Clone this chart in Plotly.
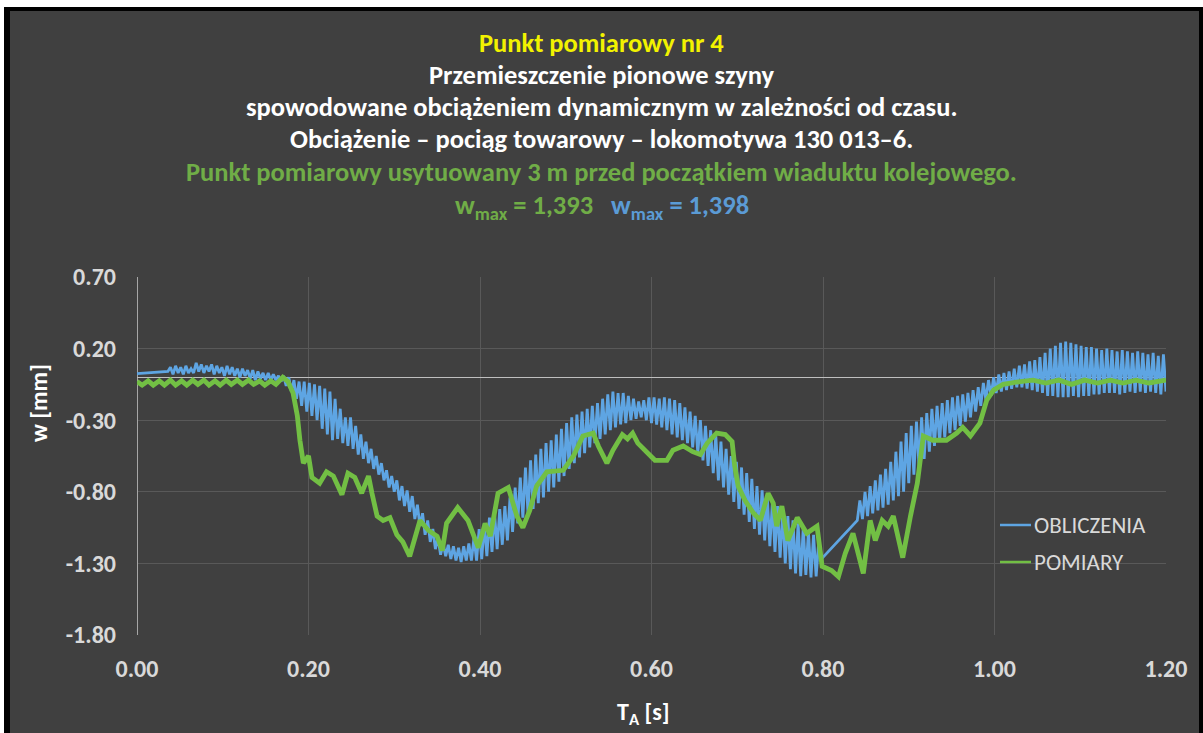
import numpy as np
import plotly.graph_objects as go

# ---------------------------------------------------------------- data
X_TICKS = [0.0, 0.2, 0.4, 0.6, 0.8, 1.0, 1.2]
Y_TICKS = [0.7, 0.2, -0.3, -0.8, -1.3, -1.8]

NAME_CALC = "OBLICZENIA"
NAME_MEAS = "POMIARY"

# OBLICZENIA: computed rail displacement w [mm], sampled every 3 ms
calc_dt = 0.003
calc_head_t = [0.0]
calc_head_w = [0.025]
calc_a_t0 = 0.036
calc_a_w = [
    0.04, 0.07, 0.02, 0.08, 0.03, 0.07, 0.02, 0.08, 0.03, 0.06,
    0.03, 0.10, 0.04, 0.09, 0.03, 0.08, 0.04, 0.09, 0.02, 0.08,
    0.03, 0.07, 0.01, 0.08, 0.02, 0.07, 0.01, 0.06, 0.00, 0.06,
    0.01, 0.05, -0.01, 0.05, -0.02, 0.04, -0.01, 0.03, -0.02, 0.03,
    -0.02, 0.02, -0.02, 0.01, -0.03, 0.01, -0.06, 0.00, -0.10, -0.02,
    -0.15, -0.03, -0.20, -0.03, -0.24, -0.04, -0.27, -0.05, -0.30, -0.06,
    -0.36, -0.08, -0.40, -0.10, -0.44, -0.15, -0.43, -0.22, -0.46, -0.28,
    -0.48, -0.28, -0.50, -0.34, -0.54, -0.40, -0.57, -0.45, -0.60, -0.50,
    -0.64, -0.55, -0.68, -0.60, -0.72, -0.65, -0.77, -0.69, -0.80, -0.72,
    -0.86, -0.76, -0.90, -0.79, -0.94, -0.83, -0.99, -0.89, -1.04, -0.95,
    -1.10, -1.00, -1.15, -1.06, -1.20, -1.12, -1.24, -1.16, -1.25, -1.17,
    -1.27, -1.18, -1.28, -1.19, -1.29, -1.18, -1.28, -1.16, -1.28, -1.12,
    -1.28, -1.06, -1.27, -1.02, -1.25, -0.98, -1.22, -0.95, -1.20, -0.92,
    -1.17, -0.90, -1.14, -0.84, -1.08, -0.77, -1.02, -0.70, -0.98, -0.63,
    -0.95, -0.58, -0.92, -0.54, -0.88, -0.50, -0.84, -0.46, -0.80, -0.44,
    -0.77, -0.40, -0.73, -0.36, -0.69, -0.32, -0.64, -0.28, -0.60, -0.26,
    -0.56, -0.24, -0.53, -0.22, -0.49, -0.20, -0.46, -0.18, -0.43, -0.15,
    -0.40, -0.12, -0.37, -0.10, -0.35, -0.11, -0.33, -0.11, -0.32, -0.13,
    -0.30, -0.15, -0.29, -0.17, -0.28, -0.16, -0.30, -0.14, -0.32, -0.14,
    -0.33, -0.15, -0.35, -0.14, -0.37, -0.15, -0.40, -0.16, -0.42, -0.18,
    -0.44, -0.21, -0.46, -0.24, -0.49, -0.27, -0.53, -0.30, -0.58, -0.34,
    -0.62, -0.37, -0.67, -0.41, -0.72, -0.45, -0.77, -0.50, -0.82, -0.55,
    -0.87, -0.59, -0.92, -0.63, -0.96, -0.67, -1.01, -0.71, -1.06, -0.76,
    -1.10, -0.79, -1.14, -0.83, -1.18, -0.87, -1.22, -0.90, -1.26, -0.94,
    -1.30, -0.97, -1.34, -1.00, -1.37, -1.02, -1.39, -1.05, -1.38, -1.08,
    -1.398, -1.10, -1.39, -1.15, -1.27,
]
calc_b_t0 = 0.84
calc_b_w = [
    -1.00, -0.86, -0.99, -0.80, -0.97, -0.76, -0.95, -0.72, -0.93, -0.68,
    -0.91, -0.64, -0.89, -0.59, -0.86, -0.52, -0.83, -0.45, -0.80, -0.39,
    -0.74, -0.34, -0.68, -0.31, -0.62, -0.28, -0.57, -0.25, -0.52, -0.22,
    -0.48, -0.20, -0.45, -0.18, -0.42, -0.16, -0.39, -0.14, -0.37, -0.13,
    -0.34, -0.12, -0.31, -0.11, -0.28, -0.09, -0.24, -0.07, -0.20, -0.04,
    -0.16, -0.02, -0.13, 0.00, -0.11, 0.02, -0.10, 0.03, -0.09, 0.04,
    -0.08, 0.06, -0.07, 0.08, -0.07, 0.09, -0.08, 0.11, -0.09, 0.12,
    -0.10, 0.14, -0.11, 0.17, -0.13, 0.20, -0.13, 0.22, -0.14, 0.24,
    -0.14, 0.25, -0.14, 0.24, -0.13, 0.23, -0.14, 0.22, -0.13, 0.21,
    -0.13, 0.21, -0.12, 0.20, -0.12, 0.19, -0.11, 0.20, -0.11, 0.19,
    -0.11, 0.18, -0.12, 0.19, -0.11, 0.18, -0.10, 0.17, -0.11, 0.18,
    -0.10, 0.17, -0.11, 0.16, -0.10, 0.17, -0.11, 0.15, -0.12, 0.16,
    -0.10,
]

# POMIARY: measured rail displacement w [mm]
meas_t = [
    0.000, 0.006, 0.013, 0.019, 0.026, 0.032, 0.039, 0.045, 0.052, 0.058,
    0.065, 0.071, 0.078, 0.084, 0.091, 0.097, 0.104, 0.110, 0.117, 0.123,
    0.130, 0.136, 0.143, 0.149, 0.156, 0.162, 0.170, 0.176, 0.182, 0.187,
    0.190, 0.194, 0.200, 0.204, 0.213, 0.221, 0.229, 0.239, 0.246, 0.254,
    0.262, 0.270, 0.274, 0.280, 0.287, 0.295, 0.303, 0.310, 0.318, 0.324,
    0.330, 0.340, 0.350, 0.356, 0.361, 0.374, 0.386, 0.398, 0.406, 0.412,
    0.421, 0.433, 0.443, 0.450, 0.458, 0.466, 0.478, 0.497, 0.509, 0.520,
    0.532, 0.538, 0.548, 0.555, 0.566, 0.572, 0.578, 0.584, 0.595, 0.604,
    0.618, 0.625, 0.637, 0.648, 0.657, 0.665, 0.676, 0.686, 0.694, 0.697,
    0.701, 0.709, 0.719, 0.727, 0.736, 0.742, 0.746, 0.752, 0.759, 0.770,
    0.781, 0.793, 0.799, 0.810, 0.818, 0.826, 0.835, 0.841, 0.847, 0.855,
    0.861, 0.869, 0.876, 0.882, 0.893, 0.902, 0.910, 0.917, 0.928, 0.944,
    0.956, 0.963, 0.972, 0.983, 0.991, 0.999, 1.010, 1.030, 1.045, 1.060,
    1.075, 1.090, 1.105, 1.120, 1.135, 1.150, 1.165, 1.180, 1.200,
]
meas_w = [
    -0.03, -0.055, -0.025, -0.055, -0.025, -0.055, -0.02, -0.055, -0.025, -0.055,
    -0.02, -0.05, -0.02, -0.055, -0.025, -0.055, -0.02, -0.05, -0.02, -0.05,
    -0.02, -0.05, -0.025, -0.055, -0.025, -0.05, 0.00, -0.03, -0.11, -0.27,
    -0.44, -0.60, -0.55, -0.70, -0.74, -0.66, -0.69, -0.82, -0.67, -0.70,
    -0.81, -0.69, -0.81, -0.97, -1.00, -0.98, -1.10, -1.15, -1.25, -1.11,
    -1.00, -1.07, -1.11, -1.21, -1.02, -0.91, -1.00, -1.19, -1.02, -1.11,
    -0.81, -0.77, -0.97, -1.05, -0.93, -0.76, -0.66, -0.65, -0.55, -0.41,
    -0.39, -0.48, -0.60, -0.51, -0.40, -0.43, -0.39, -0.46, -0.53, -0.58,
    -0.58, -0.51, -0.48, -0.52, -0.54, -0.46, -0.39, -0.40, -0.45, -0.62,
    -0.76, -0.86, -0.95, -1.00, -0.81, -0.88, -1.04, -0.90, -1.14, -0.98,
    -1.09, -1.04, -1.32, -1.35, -1.393, -1.23, -1.09, -1.23, -1.37, -1.00,
    -1.14, -1.00, -1.04, -0.97, -1.26, -0.97, -0.74, -0.41, -0.44, -0.44,
    -0.39, -0.35, -0.41, -0.32, -0.16, -0.09, -0.05, -0.03, -0.02, -0.04,
    -0.02, -0.05, -0.02, -0.04, -0.02, -0.04, -0.02, -0.04, -0.02,
]

# ---------------------------------------------------------------- assembly
calc_t = np.concatenate([
    calc_head_t,
    calc_a_t0 + calc_dt * np.arange(len(calc_a_w)),
    calc_b_t0 + calc_dt * np.arange(len(calc_b_w)),
])
calc_w = np.concatenate([calc_head_w, calc_a_w, calc_b_w])


def wmax_label(values):
    return f"{-min(values):.3f}".replace(".", ",")


W, H = 1203, 733
BG = "#404040"
GRID = "#595959"
AXIS = "#a6a6a6"
TICK_TXT = "#d9d9d9"
BLUE = "#5ea5e3"
GREEN = "#72bf44"
TITLE_GREEN = "#70ad47"
TITLE_BLUE = "#5b9bd5"
FONT = "Carlito, Calibri, Lato, sans-serif"


def fx(px):
    return px / W


def fy(py):
    return 1 - py / H


fig = go.Figure()
fig.add_trace(go.Scatter(x=calc_t, y=calc_w, name=NAME_CALC, mode="lines",
                         line=dict(color=BLUE, width=2.8)))
fig.add_trace(go.Scatter(x=meas_t, y=meas_w, name=NAME_MEAS, mode="lines",
                         line=dict(color=GREEN, width=4.8)))

tick_font = dict(family=FONT, size=24, color=TICK_TXT, weight="bold")

fig.update_xaxes(
    domain=[fx(137), fx(1166)], range=[0, 1.2], automargin=False,
    tickvals=X_TICKS, ticktext=[f"{v:.2f}" for v in X_TICKS],
    showgrid=True, gridcolor=GRID, gridwidth=1,
    zeroline=True, zerolinecolor=AXIS, zerolinewidth=1,
    showline=False, ticks="", tickfont=tick_font, ticklabelstandoff=17,
)
fig.update_yaxes(
    domain=[fy(635), fy(277)], range=[-1.8, 0.7], automargin=False,
    tickvals=Y_TICKS, ticktext=[f"{v:.2f}" for v in Y_TICKS],
    showgrid=True, gridcolor=GRID, gridwidth=1,
    zeroline=True, zerolinecolor="#bfbfbf", zerolinewidth=1,
    showline=False, ticks="", tickfont=tick_font, ticklabelstandoff=20,
)

title_font = dict(family=FONT, size=26.5, weight="bold")
title_lines = [
    ("Punkt pomiarowy nr 4", "#f2f200", 43),
    ("Przemieszczenie pionowe szyny", "#ffffff", 75),
    ("spowodowane obciążeniem dynamicznym w zależności od czasu.", "#ffffff", 107),
    ("Obciążenie – pociąg towarowy – lokomotywa 130 013–6.", "#ffffff", 139),
    ("Punkt pomiarowy usytuowany 3 m przed początkiem wiaduktu kolejowego.", TITLE_GREEN, 172),
]
annotations = []
for text, color, py in title_lines:
    annotations.append(dict(text=text, x=0.5, y=fy(py), xref="paper", yref="paper",
                            xanchor="center", yanchor="middle", showarrow=False,
                            font=dict(title_font, color=color)))

wmax_text = (
    f'<span style="color:{TITLE_GREEN}">w<sub>max</sub> = {wmax_label(meas_w)}</span>'
    f'&nbsp;&nbsp;&nbsp;'
    f'<span style="color:{TITLE_BLUE}">w<sub>max</sub> = {wmax_label(calc_w)}</span>'
)
annotations.append(dict(text=wmax_text, x=0.5, y=fy(207), xref="paper", yref="paper",
                        xanchor="center", yanchor="middle", showarrow=False,
                        font=dict(title_font, color=TITLE_GREEN)))

# axis titles
axis_title_font = dict(family=FONT, size=24, color="#ffffff", weight="bold")
annotations.append(dict(text="w [mm]", x=fx(38), y=fy(403), xref="paper", yref="paper",
                        textangle=-90, xanchor="center", yanchor="middle",
                        showarrow=False, font=axis_title_font))
annotations.append(dict(text="T<sub>A</sub> [s]", x=fx(643), y=fy(713), xref="paper",
                        yref="paper", xanchor="center", yanchor="middle",
                        showarrow=False, font=axis_title_font))

# legend drawn inside the plot area
legend_font = dict(family=FONT, size=23, color=TICK_TXT)
shapes = []
for name, color, py in [(NAME_CALC, BLUE, 525), (NAME_MEAS, GREEN, 562)]:
    shapes.append(dict(type="line", xref="paper", yref="paper",
                       x0=fx(1000), x1=fx(1031), y0=fy(py), y1=fy(py),
                       line=dict(color=color, width=2.5)))
    annotations.append(dict(text=name, x=fx(1032), y=fy(py), xref="paper", yref="paper",
                            xanchor="left", yanchor="middle", showarrow=False,
                            font=legend_font))

# frame around the chart
shapes += [
    dict(type="rect", xref="paper", yref="paper", x0=0, x1=1, y0=fy(7), y1=1,
         fillcolor="#ffffff", line=dict(width=0), layer="below"),
    dict(type="rect", xref="paper", yref="paper", x0=0, x1=fx(4), y0=0, y1=1,
         fillcolor="#ffffff", line=dict(width=0), layer="below"),
    dict(type="rect", xref="paper", yref="paper", x0=fx(4), x1=1, y0=fy(11), y1=fy(7),
         fillcolor="#000000", line=dict(width=0), layer="below"),
    dict(type="rect", xref="paper", yref="paper", x0=fx(4), x1=fx(10), y0=0, y1=fy(7),
         fillcolor="#000000", line=dict(width=0), layer="below"),
    dict(type="rect", xref="paper", yref="paper", x0=fx(1199), x1=1, y0=0, y1=fy(7),
         fillcolor="#000000", line=dict(width=0), layer="below"),
]

fig.update_layout(
    width=W, height=H, autosize=False,
    margin=dict(l=0, r=0, t=0, b=0, pad=0),
    paper_bgcolor=BG, plot_bgcolor=BG,
    showlegend=False,
    annotations=annotations, shapes=shapes,
    font=dict(family=FONT, color=TICK_TXT),
)

fig.write_html("out.html", config={"displayModeBar": False})
